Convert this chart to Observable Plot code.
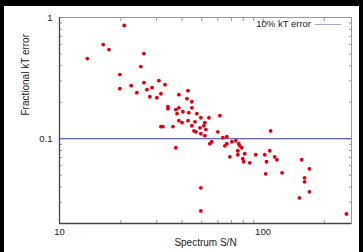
<!DOCTYPE html>
<html><head><meta charset="utf-8">
<script src="https://cdn.jsdelivr.net/npm/d3@7"></script>
<script src="https://cdn.jsdelivr.net/npm/@observablehq/plot@0.6"></script>
<style>
html,body{margin:0;padding:0;background:#000;}
#wrap{position:relative;width:363px;height:252px;background:#000;overflow:hidden;font-family:"Liberation Sans",Arial,sans-serif;}
#paper{position:absolute;left:4px;top:6px;width:355px;height:246px;background:#fff;}
#chart{position:absolute;left:0;top:0;}
#legtext{position:absolute;right:52px;top:18px;font-size:9.5px;line-height:12px;color:#222;}
#legline{position:absolute;left:315px;top:24px;width:26px;height:1px;}
</style></head>
<body>
<div id="wrap"><div id="paper"></div><div id="chart"></div><div id="legtext"></div><div id="legline"></div></div>
<script>
const snr = [20.8,16.4,17.5,13.7,26.0,25.1,19.8,19.8,22.5,24.0,26.0,26.9,28.5,30.8,33.0,31.5,27.8,30.1,38.6,42.8,
  42.3,44.7,34.1,34.1,37.3,38.6,40.4,37.8,44.7,47.3,43.2,49.5,54.2,61.4,40.0,42.8,46.3,51.8,51.2,44.7,
  49.0,52.4,45.8,46.8,49.5,51.8,60.0,63.5,66.4,31.5,32.2,36.1,38.6,37.3,54.8,56.0,64.9,66.4,70.3,73.5,
  76.0,76.9,78.6,75.2,75.2,81.3,79.5,80.4,68.7,86.1,92.1,102,108,109,114,117,104,103,124,155,
  169,160,160,169,151,49.5,49.5,257];
const ktErr = [0.859,0.598,0.544,0.458,0.504,0.394,0.338,0.259,0.274,0.240,0.290,0.254,0.264,0.301,0.279,0.235,0.222,0.218,0.231,0.249,
  0.214,0.202,0.184,0.177,0.174,0.180,0.167,0.161,0.180,0.161,0.164,0.149,0.149,0.155,0.136,0.141,0.138,0.136,0.128,0.128,
  0.123,0.119,0.116,0.114,0.110,0.106,0.114,0.102,0.104,0.126,0.126,0.126,0.141,0.0843,0.0909,0.0945,0.0875,0.0909,0.0945,0.0963,
  0.0909,0.0875,0.0843,0.0796,0.0738,0.0752,0.0684,0.0646,0.0710,0.0633,0.0738,0.0738,0.0796,0.116,0.0710,0.0671,0.0646,0.0514,0.0524,0.0671,
  0.0565,0.0476,0.0441,0.0365,0.0325,0.0394,0.0254,0.0240];
const xMajor = [10, 100];
const xMinor = [20, 30, 40, 50, 60, 70, 80, 90, 200];
const yMajor = [0.1, 1];
const yMinor = [0.03, 0.04, 0.05, 0.06, 0.07, 0.08, 0.09, 0.2, 0.3, 0.4, 0.5, 0.6, 0.7, 0.8, 0.9];
const threshold = [0.1];
const legendLabel = "10% kT error";
const xLabel = "Spectrum S/N";
const yLabel = "Fractional kT error";

const data = snr.map((x, i) => ({snr: x, err: ktErr[i]}));
const tickOnly = {fill: "none", label: null, stroke: "#999"};
const chart = Plot.plot({
  width: 363, height: 252,
  marginLeft: 59, marginRight: 12, marginTop: 17, marginBottom: 29,
  style: {background: "transparent", fontFamily: "Liberation Sans, Arial, sans-serif", fontSize: "9.5px", color: "#222"},
  x: {type: "log", domain: [10, 272]},
  y: {type: "log", domain: [0.02, 1]},
  marks: [
    Plot.frame({stroke: "#999"}),
    Plot.axisX(xMinor, {anchor: "bottom", tickSize: -3, ...tickOnly}),
    Plot.axisX(xMinor, {anchor: "top", tickSize: -3, ...tickOnly}),
    Plot.axisX(xMajor, {anchor: "top", tickSize: -5, ...tickOnly}),
    Plot.axisX(xMajor, {anchor: "bottom", tickSize: 0, tickPadding: 5, label: null, tickFormat: d => String(d)}),
    Plot.axisY(yMinor, {anchor: "left", tickSize: -3, ...tickOnly}),
    Plot.axisY(yMinor, {anchor: "right", tickSize: -3, ...tickOnly}),
    Plot.axisY(yMajor, {anchor: "right", tickSize: -5, ...tickOnly}),
    Plot.axisY(yMajor, {anchor: "left", tickSize: 0, tickPadding: 7, label: null, tickFormat: d => String(d)}),
    Plot.ruleX([10], {stroke: "#444", strokeWidth: 1.3}),
    Plot.ruleY([0.02], {stroke: "#444", strokeWidth: 1.3}),
    Plot.ruleY(threshold, {stroke: "#3b3ba6", strokeWidth: 1}),
    Plot.dot(data, {x: "snr", y: "err", r: 1.9, fill: "#e00010", stroke: "none"}),
    Plot.text([xLabel], {frameAnchor: "bottom", dy: 22, fontSize: 10, fill: "#222"}),
    Plot.text([yLabel], {frameAnchor: "left", dx: -34, dy: -5, rotate: -90, fontSize: 10, fill: "#222"})
  ]
});
document.getElementById("chart").appendChild(chart);
document.getElementById("legtext").textContent = legendLabel;
document.getElementById("legline").style.background = "#a4a4d8";
</script>
</body></html>
